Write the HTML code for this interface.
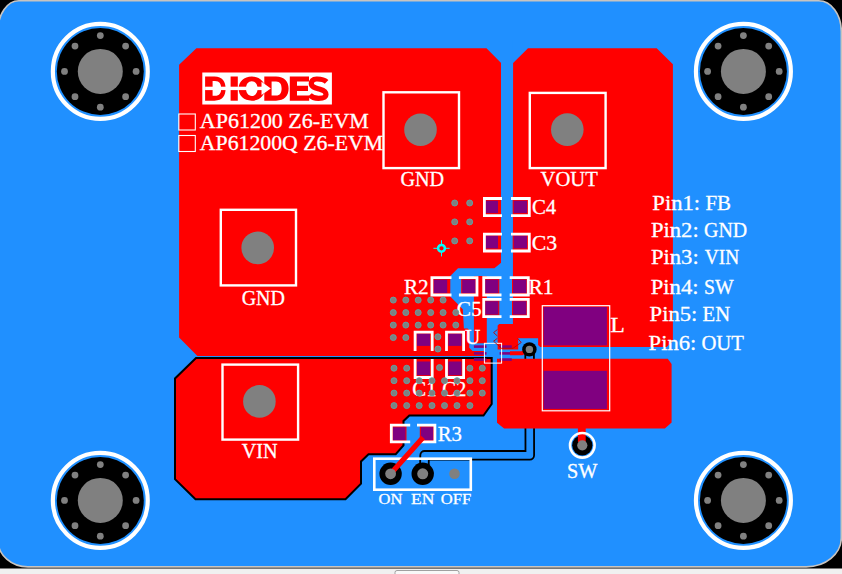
<!DOCTYPE html><html><head><meta charset="utf-8"><style>html,body{margin:0;padding:0;background:#000;overflow:hidden}svg{display:block}text{font-family:"Liberation Serif",serif}</style></head><body>
<svg width="842" height="574" viewBox="0 0 842 574">
<rect x="0" y="0" width="842" height="574" fill="#000000"/>
<rect x="0" y="568.5" width="842" height="6" fill="#f0f0f0"/>
<rect x="395" y="570.5" width="64" height="8" rx="2" fill="#f8f8f8" stroke="#a0a0a0" stroke-width="1"/>
<path d="M18.8,0.8 L818.7,0.8 A22.6,30.6 0 0 1 841.3,31.4 L841.3,538 A35.1,28.9 0 0 1 806.2,566.9 L27.9,566.9 A29.9,26.4 0 0 1 -2,540.5 L-2,30.5 A20.8,29.7 0 0 1 18.8,0.8 Z" fill="#2090ff" stroke="#c8c4c0" stroke-width="1.6"/>
<circle cx="100.3" cy="71.4" r="47.45" fill="none" stroke="#ffffff" stroke-width="4.2"/>
<circle cx="100.3" cy="71.4" r="43.5" fill="#000000"/>
<circle cx="100.3" cy="71.4" r="22.5" fill="#808080"/>
<circle cx="136.10" cy="71.40" r="3.4" fill="#808080"/>
<circle cx="125.61" cy="96.71" r="3.4" fill="#808080"/>
<circle cx="100.30" cy="107.20" r="3.4" fill="#808080"/>
<circle cx="74.99" cy="96.71" r="3.4" fill="#808080"/>
<circle cx="64.50" cy="71.40" r="3.4" fill="#808080"/>
<circle cx="74.99" cy="46.09" r="3.4" fill="#808080"/>
<circle cx="100.30" cy="35.60" r="3.4" fill="#808080"/>
<circle cx="125.61" cy="46.09" r="3.4" fill="#808080"/>
<circle cx="743.4" cy="71.4" r="47.45" fill="none" stroke="#ffffff" stroke-width="4.2"/>
<circle cx="743.4" cy="71.4" r="43.5" fill="#000000"/>
<circle cx="743.4" cy="71.4" r="22.5" fill="#808080"/>
<circle cx="779.20" cy="71.40" r="3.4" fill="#808080"/>
<circle cx="768.71" cy="96.71" r="3.4" fill="#808080"/>
<circle cx="743.40" cy="107.20" r="3.4" fill="#808080"/>
<circle cx="718.09" cy="96.71" r="3.4" fill="#808080"/>
<circle cx="707.60" cy="71.40" r="3.4" fill="#808080"/>
<circle cx="718.09" cy="46.09" r="3.4" fill="#808080"/>
<circle cx="743.40" cy="35.60" r="3.4" fill="#808080"/>
<circle cx="768.71" cy="46.09" r="3.4" fill="#808080"/>
<circle cx="100.3" cy="500.4" r="47.45" fill="none" stroke="#ffffff" stroke-width="4.2"/>
<circle cx="100.3" cy="500.4" r="43.5" fill="#000000"/>
<circle cx="100.3" cy="500.4" r="22.5" fill="#808080"/>
<circle cx="136.10" cy="500.40" r="3.4" fill="#808080"/>
<circle cx="125.61" cy="525.71" r="3.4" fill="#808080"/>
<circle cx="100.30" cy="536.20" r="3.4" fill="#808080"/>
<circle cx="74.99" cy="525.71" r="3.4" fill="#808080"/>
<circle cx="64.50" cy="500.40" r="3.4" fill="#808080"/>
<circle cx="74.99" cy="475.09" r="3.4" fill="#808080"/>
<circle cx="100.30" cy="464.60" r="3.4" fill="#808080"/>
<circle cx="125.61" cy="475.09" r="3.4" fill="#808080"/>
<circle cx="743.4" cy="500.4" r="47.45" fill="none" stroke="#ffffff" stroke-width="4.2"/>
<circle cx="743.4" cy="500.4" r="43.5" fill="#000000"/>
<circle cx="743.4" cy="500.4" r="22.5" fill="#808080"/>
<circle cx="779.20" cy="500.40" r="3.4" fill="#808080"/>
<circle cx="768.71" cy="525.71" r="3.4" fill="#808080"/>
<circle cx="743.40" cy="536.20" r="3.4" fill="#808080"/>
<circle cx="718.09" cy="525.71" r="3.4" fill="#808080"/>
<circle cx="707.60" cy="500.40" r="3.4" fill="#808080"/>
<circle cx="718.09" cy="475.09" r="3.4" fill="#808080"/>
<circle cx="743.40" cy="464.60" r="3.4" fill="#808080"/>
<circle cx="768.71" cy="475.09" r="3.4" fill="#808080"/>
<polygon points="196.4,48.3 486.5,48.3 501.1,63 501.1,270 484.3,270 484.3,356 197.4,356 179.1,337.5 179.1,64.8" fill="#ff0000" />
<polygon points="513.1,63 528,48.3 656.7,48.3 672.9,64.3 672.9,341 666.6,347 540.2,347 538.1,345 538.1,338.2 518.2,338.2 518.2,349.5 497.4,349.5 497.4,325.5 499,323.9 512.7,323.9" fill="#ff0000" />
<polygon points="501.1,40 512.7,40 512.7,323.9 499,323.9 497.4,325.5 497.4,363 497,428 491,428 491,363 484.3,363 484.3,350.9 472.5,350.9 469.3,347.7 469.3,330 467.5,328.5 463.9,328.5 462.8,309.3 450.3,296.6 450.3,276 458,268.2 494.4,268.2 501.1,262.7" fill="#2090ff" />
<polygon points="473.9,276 486.8,276 486.8,343.3 473.9,343.3" fill="#ff0000" />
<path d="M529.6,349.4 L529.8,455.3 L424.6,455.3 L424.4,466 L422.7,473.8" fill="none" stroke="#000000" stroke-width="10.4" stroke-linejoin="round"/>
<path d="M529.6,349.4 L529.8,455.3 L424.6,455.3 L424.4,466 L422.7,473.8" fill="none" stroke="#2090ff" stroke-width="6.8" stroke-linejoin="round"/>
<polygon points="497,358.7 667.8,358.7 671.6,364 671.6,422.5 664.9,428.5 504.1,428.5 497,422.7" fill="#ff0000" />
<polygon points="196,358 491.7,358 491.7,404 483.5,415.5 409.3,415.5 403.5,421 403.5,445.4 395.7,454.2 368.5,454.3 361,461.4 361,483.6 345.5,499.3 195.5,499.3 175,479.2 175,378.5" fill="#ff0000" stroke="#000000" stroke-width="2"/>
<rect x="383.5" y="92.3" width="75.5" height="75.8" fill="none" stroke="#ffffff" stroke-width="2.4"/>
<circle cx="420.5" cy="129.7" r="16.3" fill="#808080"/>
<rect x="529.8" y="92.9" width="75.80000000000007" height="75.19999999999999" fill="none" stroke="#ffffff" stroke-width="2.4"/>
<circle cx="567.3" cy="129.6" r="16.3" fill="#808080"/>
<rect x="220.8" y="209.8" width="75.19999999999999" height="75.59999999999997" fill="none" stroke="#ffffff" stroke-width="2.4"/>
<circle cx="257.7" cy="247.9" r="16.3" fill="#808080"/>
<rect x="222.5" y="364.6" width="75.60000000000002" height="75.0" fill="none" stroke="#ffffff" stroke-width="2.4"/>
<circle cx="259.4" cy="401.4" r="16.3" fill="#808080"/>
<rect x="484.8" y="199.7" width="14.199999999999989" height="14.400000000000006" fill="#ff0000"/>
<rect x="485.8" y="200.7" width="12.199999999999989" height="12.400000000000006" fill="#800080"/>
<rect x="512.7" y="199.7" width="15.299999999999955" height="14.400000000000006" fill="#ff0000"/>
<rect x="513.7" y="200.7" width="13.299999999999955" height="12.400000000000006" fill="#800080"/>
<polyline points="502,198.5 484.4,198.5 484.4,215.7 502,215.7" fill="none" stroke="#ffffff" stroke-width="2.8" stroke-linejoin="miter"/>
<polyline points="511,198.5 529.3,198.5 529.3,215.7 511,215.7" fill="none" stroke="#ffffff" stroke-width="2.8" stroke-linejoin="miter"/>
<rect x="484.8" y="234.6" width="14.199999999999989" height="14.800000000000011" fill="#ff0000"/>
<rect x="485.8" y="235.6" width="12.199999999999989" height="12.800000000000011" fill="#800080"/>
<rect x="512.7" y="234.6" width="15.299999999999955" height="14.800000000000011" fill="#ff0000"/>
<rect x="513.7" y="235.6" width="13.299999999999955" height="12.800000000000011" fill="#800080"/>
<polyline points="502,234.2 484.4,234.2 484.4,251.0 502,251.0" fill="none" stroke="#ffffff" stroke-width="2.8" stroke-linejoin="miter"/>
<polyline points="511,234.2 529.3,234.2 529.3,251.0 511,251.0" fill="none" stroke="#ffffff" stroke-width="2.8" stroke-linejoin="miter"/>
<rect x="432.7" y="278.6" width="15.5" height="15.5" fill="#ff0000"/>
<rect x="433.7" y="279.6" width="13.5" height="13.5" fill="#800080"/>
<polyline points="451.5,277.6 431.9,277.6 431.9,295 451.5,295" fill="none" stroke="#ffffff" stroke-width="2.8" stroke-linejoin="miter"/>
<rect x="461.2" y="278.6" width="15.300000000000011" height="15.5" fill="#ff0000"/>
<rect x="462.2" y="279.6" width="13.300000000000011" height="13.5" fill="#800080"/>
<polyline points="458.9,277.6 477,277.6 477,295 458.9,295" fill="none" stroke="#ffffff" stroke-width="2.8" stroke-linejoin="miter"/>
<rect x="484.2" y="278.6" width="15.100000000000023" height="15.5" fill="#ff0000"/>
<rect x="485.2" y="279.6" width="13.100000000000023" height="13.5" fill="#800080"/>
<polyline points="501.5,277.6 483.7,277.6 483.7,295 501.5,295" fill="none" stroke="#ffffff" stroke-width="2.8" stroke-linejoin="miter"/>
<rect x="512" y="278.6" width="15.399999999999977" height="15.5" fill="#ff0000"/>
<rect x="513" y="279.6" width="13.399999999999977" height="13.5" fill="#800080"/>
<polyline points="509.7,277.6 528.3,277.6 528.3,295 509.7,295" fill="none" stroke="#ffffff" stroke-width="2.8" stroke-linejoin="miter"/>
<rect x="484.2" y="300.2" width="15.100000000000023" height="15.400000000000034" fill="#ff0000"/>
<rect x="485.2" y="301.2" width="13.100000000000023" height="13.400000000000034" fill="#800080"/>
<polyline points="501.5,299.4 483.7,299.4 483.7,316.6 501.5,316.6" fill="none" stroke="#ffffff" stroke-width="2.8" stroke-linejoin="miter"/>
<rect x="512" y="300.2" width="15.399999999999977" height="15.400000000000034" fill="#ff0000"/>
<rect x="513" y="301.2" width="13.399999999999977" height="13.400000000000034" fill="#800080"/>
<polyline points="509.7,299.4 528.3,299.4 528.3,316.6 509.7,316.6" fill="none" stroke="#ffffff" stroke-width="2.8" stroke-linejoin="miter"/>
<rect x="416" y="332.6" width="15" height="14.299999999999955" fill="#ff0000"/>
<rect x="417" y="333.6" width="13" height="12.299999999999955" fill="#800080"/>
<polyline points="415.1,351 415.1,332.1 432.2,332.1 432.2,351" fill="none" stroke="#ffffff" stroke-width="2.8" stroke-linejoin="miter"/>
<rect x="416" y="360.5" width="15" height="15.699999999999989" fill="#ff0000"/>
<rect x="417" y="361.5" width="13" height="13.699999999999989" fill="#800080"/>
<polyline points="415.1,359 415.1,377.5 432.2,377.5 432.2,359" fill="none" stroke="#ffffff" stroke-width="2.8" stroke-linejoin="miter"/>
<rect x="447.4" y="332.6" width="15.100000000000023" height="14.299999999999955" fill="#ff0000"/>
<rect x="448.4" y="333.6" width="13.100000000000023" height="12.299999999999955" fill="#800080"/>
<polyline points="446.5,351 446.5,332.1 463.6,332.1 463.6,351" fill="none" stroke="#ffffff" stroke-width="2.8" stroke-linejoin="miter"/>
<rect x="447.4" y="360.5" width="15.100000000000023" height="15.699999999999989" fill="#ff0000"/>
<rect x="448.4" y="361.5" width="13.100000000000023" height="13.699999999999989" fill="#800080"/>
<polyline points="446.5,359 446.5,377.5 463.6,377.5 463.6,359" fill="none" stroke="#ffffff" stroke-width="2.8" stroke-linejoin="miter"/>
<rect x="392" y="426.2" width="14.5" height="15.0" fill="#ff0000"/>
<rect x="393" y="427.2" width="12.5" height="13.0" fill="#800080"/>
<polyline points="410.2,425.2 391.3,425.2 391.3,441.9 410.2,441.9" fill="none" stroke="#ffffff" stroke-width="2.8" stroke-linejoin="miter"/>
<rect x="419.8" y="426.2" width="14.399999999999977" height="15.0" fill="#ff0000"/>
<rect x="420.8" y="427.2" width="12.399999999999977" height="13.0" fill="#800080"/>
<polyline points="417,425.2 434.9,425.2 434.9,441.9 417,441.9" fill="none" stroke="#ffffff" stroke-width="2.8" stroke-linejoin="miter"/>
<rect x="543.6" y="307" width="63.3" height="38.4" fill="#800080"/>
<rect x="543.6" y="370.8" width="63.3" height="38.1" fill="#800080"/>
<rect x="542.3" y="305.7" width="67.4" height="105.1" fill="none" stroke="#ffffff" stroke-width="1.2"/>
<rect x="473.9" y="345.3" width="12.6" height="2.6" fill="#800080"/>
<rect x="499.6" y="345.3" width="12.2" height="2.6" fill="#800080"/>
<rect x="473.9" y="352.09999999999997" width="12.6" height="2.6" fill="#800080"/>
<rect x="499.6" y="352.09999999999997" width="12.2" height="2.6" fill="#800080"/>
<rect x="473.9" y="358.3" width="12.6" height="2.6" fill="#800080"/>
<rect x="499.6" y="358.3" width="12.2" height="2.6" fill="#800080"/>
<rect x="484.4" y="343.3" width="17.2" height="19.8" fill="none" stroke="#ffffff" stroke-width="1"/>
<path d="M510,353.2 L522,353.2 L529,349" fill="none" stroke="#ff0000" stroke-width="4" stroke-linejoin="round"/>
<path d="M497.4,329.5 L493.6,332.6 L497.4,336 M497.4,338.3 L493.6,341.2 L501.5,348.3 L513,348.3 L521.2,342.5 L517.8,338.5" fill="none" stroke="#c00000" stroke-width="0.9"/>
<circle cx="529.4" cy="349.4" r="7.2" fill="#000000"/>
<circle cx="529.4" cy="349.4" r="3.7" fill="#808080"/>
<text x="199.87" y="127.5" font-size="21.3" fill="#ffffff" stroke="#ffffff" stroke-width="0.3" text-anchor="start" textLength="169.03" lengthAdjust="spacingAndGlyphs">AP61200 Z6-EVM</text>
<text x="199.88" y="150.1" font-size="21.3" fill="#ffffff" stroke="#ffffff" stroke-width="0.3" text-anchor="start" textLength="183.1" lengthAdjust="spacingAndGlyphs">AP61200Q Z6-EVM</text>
<text x="400.45" y="185.6" font-size="21.3" fill="#ffffff" stroke="#ffffff" stroke-width="0.3" text-anchor="start" textLength="43.62" lengthAdjust="spacingAndGlyphs">GND</text>
<text x="540.53" y="186" font-size="21.3" fill="#ffffff" stroke="#ffffff" stroke-width="0.3" text-anchor="start" textLength="57.22" lengthAdjust="spacingAndGlyphs">VOUT</text>
<text x="241.66" y="305.4" font-size="21.3" fill="#ffffff" stroke="#ffffff" stroke-width="0.3" text-anchor="start" textLength="43.2" lengthAdjust="spacingAndGlyphs">GND</text>
<text x="241.65" y="458.4" font-size="21.3" fill="#ffffff" stroke="#ffffff" stroke-width="0.3" text-anchor="start" textLength="35.86" lengthAdjust="spacingAndGlyphs">VIN</text>
<text x="531.92" y="213.8" font-size="21.3" fill="#ffffff" stroke="#ffffff" stroke-width="0.3" text-anchor="start" textLength="24.24" lengthAdjust="spacingAndGlyphs">C4</text>
<text x="531.88" y="250.4" font-size="21.3" fill="#ffffff" stroke="#ffffff" stroke-width="0.3" text-anchor="start" textLength="25.29" lengthAdjust="spacingAndGlyphs">C3</text>
<text x="403.9" y="294.4" font-size="21.3" fill="#ffffff" stroke="#ffffff" stroke-width="0.3" text-anchor="start" textLength="24.75" lengthAdjust="spacingAndGlyphs">R2</text>
<text x="528.49" y="293.5" font-size="21.3" fill="#ffffff" stroke="#ffffff" stroke-width="0.3" text-anchor="start" textLength="25.09" lengthAdjust="spacingAndGlyphs">R1</text>
<text x="456.7" y="315.6" font-size="21.3" fill="#ffffff" stroke="#ffffff" stroke-width="0.3" text-anchor="start" textLength="24.86" lengthAdjust="spacingAndGlyphs">C5</text>
<text x="464.9" y="343.5" font-size="21.3" fill="#ffffff" stroke="#ffffff" stroke-width="0.3" text-anchor="start" textLength="15.39" lengthAdjust="spacingAndGlyphs">U</text>
<text x="610.38" y="332.3" font-size="21.3" fill="#ffffff" stroke="#ffffff" stroke-width="0.3" text-anchor="start" textLength="14.55" lengthAdjust="spacingAndGlyphs">L</text>
<text x="437.63" y="440.6" font-size="21.3" fill="#ffffff" stroke="#ffffff" stroke-width="0.3" text-anchor="start" textLength="24.21" lengthAdjust="spacingAndGlyphs">R3</text>
<text x="567.05" y="477.6" font-size="21.3" fill="#ffffff" stroke="#ffffff" stroke-width="0.3" text-anchor="start" textLength="30.41" lengthAdjust="spacingAndGlyphs">SW</text>
<text x="412.22" y="396.1" font-size="21.3" fill="#ffffff" stroke="#ffffff" stroke-width="0.3" text-anchor="start" textLength="24.41" lengthAdjust="spacingAndGlyphs">C1</text>
<text x="442.23" y="396.1" font-size="21.3" fill="#ffffff" stroke="#ffffff" stroke-width="0.3" text-anchor="start" textLength="24.1" lengthAdjust="spacingAndGlyphs">C2</text>
<text x="378.5" y="503.5" font-size="15" fill="#ffffff" stroke="#ffffff" stroke-width="0.3" text-anchor="start" textLength="23.84" lengthAdjust="spacingAndGlyphs">ON</text>
<text x="411.03" y="503.5" font-size="15" fill="#ffffff" stroke="#ffffff" stroke-width="0.3" text-anchor="start" textLength="23.33" lengthAdjust="spacingAndGlyphs">EN</text>
<text x="440.8" y="503.5" font-size="15" fill="#ffffff" stroke="#ffffff" stroke-width="0.3" text-anchor="start" textLength="30.39" lengthAdjust="spacingAndGlyphs">OFF</text>
<text x="652.34" y="210.2" font-size="21.3" fill="#ffffff" stroke="#ffffff" stroke-width="0.3" text-anchor="start" textLength="47.77" lengthAdjust="spacingAndGlyphs">Pin1:</text>
<text x="705.42" y="210.2" font-size="21.3" fill="#ffffff" stroke="#ffffff" stroke-width="0.3" text-anchor="start" textLength="25.63" lengthAdjust="spacingAndGlyphs">FB</text>
<text x="650.94" y="237.4" font-size="21.3" fill="#ffffff" stroke="#ffffff" stroke-width="0.3" text-anchor="start" textLength="47.77" lengthAdjust="spacingAndGlyphs">Pin2:</text>
<text x="704.07" y="237.4" font-size="21.3" fill="#ffffff" stroke="#ffffff" stroke-width="0.3" text-anchor="start" textLength="43.1" lengthAdjust="spacingAndGlyphs">GND</text>
<text x="650.94" y="264" font-size="21.3" fill="#ffffff" stroke="#ffffff" stroke-width="0.3" text-anchor="start" textLength="47.77" lengthAdjust="spacingAndGlyphs">Pin3:</text>
<text x="704.79" y="264" font-size="21.3" fill="#ffffff" stroke="#ffffff" stroke-width="0.3" text-anchor="start" textLength="34.39" lengthAdjust="spacingAndGlyphs">VIN</text>
<text x="650.74" y="293.5" font-size="21.3" fill="#ffffff" stroke="#ffffff" stroke-width="0.3" text-anchor="start" textLength="47.77" lengthAdjust="spacingAndGlyphs">Pin4:</text>
<text x="704.07" y="293.5" font-size="21.3" fill="#ffffff" stroke="#ffffff" stroke-width="0.3" text-anchor="start" textLength="29.58" lengthAdjust="spacingAndGlyphs">SW</text>
<text x="649.64" y="320.5" font-size="21.3" fill="#ffffff" stroke="#ffffff" stroke-width="0.3" text-anchor="start" textLength="47.77" lengthAdjust="spacingAndGlyphs">Pin5:</text>
<text x="702.53" y="320.5" font-size="21.3" fill="#ffffff" stroke="#ffffff" stroke-width="0.3" text-anchor="start" textLength="27.55" lengthAdjust="spacingAndGlyphs">EN</text>
<text x="648.64" y="349.6" font-size="21.3" fill="#ffffff" stroke="#ffffff" stroke-width="0.3" text-anchor="start" textLength="47.77" lengthAdjust="spacingAndGlyphs">Pin6:</text>
<text x="701.43" y="349.6" font-size="21.3" fill="#ffffff" stroke="#ffffff" stroke-width="0.3" text-anchor="start" textLength="42.56" lengthAdjust="spacingAndGlyphs">OUT</text>
<circle cx="454.7" cy="203" r="3.0" fill="#808080" stroke="#5fa5a5" stroke-width="0.9"/>
<circle cx="469.7" cy="203" r="3.0" fill="#808080" stroke="#5fa5a5" stroke-width="0.9"/>
<circle cx="454.7" cy="221.9" r="3.0" fill="#808080" stroke="#5fa5a5" stroke-width="0.9"/>
<circle cx="469.7" cy="221.9" r="3.0" fill="#808080" stroke="#5fa5a5" stroke-width="0.9"/>
<circle cx="454.7" cy="240.9" r="3.0" fill="#808080" stroke="#5fa5a5" stroke-width="0.9"/>
<circle cx="469.7" cy="240.9" r="3.0" fill="#808080" stroke="#5fa5a5" stroke-width="0.9"/>
<circle cx="393.3" cy="300.1" r="3.0" fill="#808080" stroke="#5fa5a5" stroke-width="0.9"/>
<circle cx="405.8" cy="300.1" r="3.0" fill="#808080" stroke="#5fa5a5" stroke-width="0.9"/>
<circle cx="418.2" cy="300.1" r="3.0" fill="#808080" stroke="#5fa5a5" stroke-width="0.9"/>
<circle cx="430.7" cy="300.1" r="3.0" fill="#808080" stroke="#5fa5a5" stroke-width="0.9"/>
<circle cx="443.1" cy="300.1" r="3.0" fill="#808080" stroke="#5fa5a5" stroke-width="0.9"/>
<circle cx="393.3" cy="312.6" r="3.0" fill="#808080" stroke="#5fa5a5" stroke-width="0.9"/>
<circle cx="405.8" cy="312.6" r="3.0" fill="#808080" stroke="#5fa5a5" stroke-width="0.9"/>
<circle cx="418.2" cy="312.6" r="3.0" fill="#808080" stroke="#5fa5a5" stroke-width="0.9"/>
<circle cx="430.7" cy="312.6" r="3.0" fill="#808080" stroke="#5fa5a5" stroke-width="0.9"/>
<circle cx="443.1" cy="312.6" r="3.0" fill="#808080" stroke="#5fa5a5" stroke-width="0.9"/>
<circle cx="455.8" cy="312.6" r="3.0" fill="#808080" stroke="#5fa5a5" stroke-width="0.9"/>
<circle cx="393.3" cy="325.1" r="3.0" fill="#808080" stroke="#5fa5a5" stroke-width="0.9"/>
<circle cx="405.8" cy="325.1" r="3.0" fill="#808080" stroke="#5fa5a5" stroke-width="0.9"/>
<circle cx="418.2" cy="325.1" r="3.0" fill="#808080" stroke="#5fa5a5" stroke-width="0.9"/>
<circle cx="430.7" cy="325.1" r="3.0" fill="#808080" stroke="#5fa5a5" stroke-width="0.9"/>
<circle cx="443.1" cy="325.1" r="3.0" fill="#808080" stroke="#5fa5a5" stroke-width="0.9"/>
<circle cx="455.8" cy="325.1" r="3.0" fill="#808080" stroke="#5fa5a5" stroke-width="0.9"/>
<circle cx="393.3" cy="337.6" r="3.0" fill="#808080" stroke="#5fa5a5" stroke-width="0.9"/>
<circle cx="405.8" cy="337.6" r="3.0" fill="#808080" stroke="#5fa5a5" stroke-width="0.9"/>
<circle cx="437.9" cy="336.8" r="3.0" fill="#808080" stroke="#5fa5a5" stroke-width="0.9"/>
<circle cx="437.9" cy="349" r="3.0" fill="#808080" stroke="#5fa5a5" stroke-width="0.9"/>
<circle cx="394" cy="368.2" r="3.0" fill="#808080" stroke="#5fa5a5" stroke-width="0.9"/>
<circle cx="406.7" cy="368.2" r="3.0" fill="#808080" stroke="#5fa5a5" stroke-width="0.9"/>
<circle cx="439.5" cy="367.6" r="3.0" fill="#808080" stroke="#5fa5a5" stroke-width="0.9"/>
<circle cx="469.9" cy="368.2" r="3.0" fill="#808080" stroke="#5fa5a5" stroke-width="0.9"/>
<circle cx="482.3" cy="368.2" r="3.0" fill="#808080" stroke="#5fa5a5" stroke-width="0.9"/>
<circle cx="394" cy="380.7" r="3.0" fill="#808080" stroke="#5fa5a5" stroke-width="0.9"/>
<circle cx="406.7" cy="380.7" r="3.0" fill="#808080" stroke="#5fa5a5" stroke-width="0.9"/>
<circle cx="419.2" cy="380.7" r="3.0" fill="#808080" stroke="#5fa5a5" stroke-width="0.9"/>
<circle cx="432" cy="380.7" r="3.0" fill="#808080" stroke="#5fa5a5" stroke-width="0.9"/>
<circle cx="444.5" cy="380.7" r="3.0" fill="#808080" stroke="#5fa5a5" stroke-width="0.9"/>
<circle cx="457" cy="380.7" r="3.0" fill="#808080" stroke="#5fa5a5" stroke-width="0.9"/>
<circle cx="469.9" cy="380.7" r="3.0" fill="#808080" stroke="#5fa5a5" stroke-width="0.9"/>
<circle cx="482.3" cy="380.7" r="3.0" fill="#808080" stroke="#5fa5a5" stroke-width="0.9"/>
<circle cx="394" cy="393.1" r="3.0" fill="#808080" stroke="#5fa5a5" stroke-width="0.9"/>
<circle cx="406.7" cy="393.1" r="3.0" fill="#808080" stroke="#5fa5a5" stroke-width="0.9"/>
<circle cx="419.2" cy="393.1" r="3.0" fill="#808080" stroke="#5fa5a5" stroke-width="0.9"/>
<circle cx="432" cy="393.1" r="3.0" fill="#808080" stroke="#5fa5a5" stroke-width="0.9"/>
<circle cx="444.5" cy="393.1" r="3.0" fill="#808080" stroke="#5fa5a5" stroke-width="0.9"/>
<circle cx="457" cy="393.1" r="3.0" fill="#808080" stroke="#5fa5a5" stroke-width="0.9"/>
<circle cx="469.9" cy="393.1" r="3.0" fill="#808080" stroke="#5fa5a5" stroke-width="0.9"/>
<circle cx="482.3" cy="393.1" r="3.0" fill="#808080" stroke="#5fa5a5" stroke-width="0.9"/>
<circle cx="394" cy="405.6" r="3.0" fill="#808080" stroke="#5fa5a5" stroke-width="0.9"/>
<circle cx="406.7" cy="405.6" r="3.0" fill="#808080" stroke="#5fa5a5" stroke-width="0.9"/>
<circle cx="419.2" cy="405.6" r="3.0" fill="#808080" stroke="#5fa5a5" stroke-width="0.9"/>
<circle cx="432" cy="405.6" r="3.0" fill="#808080" stroke="#5fa5a5" stroke-width="0.9"/>
<circle cx="444.5" cy="405.6" r="3.0" fill="#808080" stroke="#5fa5a5" stroke-width="0.9"/>
<circle cx="457" cy="405.6" r="3.0" fill="#808080" stroke="#5fa5a5" stroke-width="0.9"/>
<circle cx="469.9" cy="405.6" r="3.0" fill="#808080" stroke="#5fa5a5" stroke-width="0.9"/>
<rect x="178.8" y="114" width="16.5" height="16" fill="none" stroke="#ffffff" stroke-width="1.1"/>
<rect x="178.8" y="135.5" width="16.5" height="16" fill="none" stroke="#ffffff" stroke-width="1.1"/>
<g fill="#00ffff"><circle cx="441.5" cy="248.3" r="3.4" fill="none" stroke="#00ffff" stroke-width="2.5"/><rect x="441" y="240.2" width="1" height="4" /><rect x="441" y="252.4" width="1" height="4"/><rect x="433.4" y="247.8" width="4" height="1"/><rect x="445.6" y="247.8" width="4" height="1"/></g>
<rect x="374.3" y="458.7" width="96.5" height="31" fill="none" stroke="#ffffff" stroke-width="2.6"/>
<circle cx="390.6" cy="473.8" r="11.2" fill="#000000"/>
<circle cx="422.7" cy="473.8" r="11.2" fill="#000000"/>
<path d="M390.6,473.8 L423,437.5" stroke="#ff0000" stroke-width="5.2"/>
<circle cx="390.6" cy="473.8" r="5.4" fill="#808080"/>
<circle cx="422.7" cy="473.8" r="5.5" fill="#808080"/>
<circle cx="454.5" cy="473.8" r="5.3" fill="#808080"/>
<circle cx="582.3" cy="445.3" r="11.2" fill="#2090ff"/>
<circle cx="582.3" cy="445.3" r="10.1" fill="#000000"/>
<rect x="577.9" y="427" width="7.8" height="15" fill="#ff0000"/>
<circle cx="582.3" cy="445.3" r="12.3" fill="none" stroke="#ffffff" stroke-width="2.6"/>
<circle cx="582.3" cy="445.3" r="5.1" fill="#808080"/>
<rect x="202.3" y="72.5" width="129.6" height="32" fill="#ffffff"/>
<g fill="#ff0000"><path fill-rule="evenodd" d="M205.1,76.5 H214.5 C222.5,76.5 225.6,81.5 225.6,88.6 C225.6,95.7 222.5,100.7 214.5,100.7 H205.1 Z M212.6,81 H215 C219.6,81 221.2,84 221.2,88.5 C221.2,93 219.6,95.8 215,95.8 H212.6 Z"/><rect x="230.6" y="76.5" width="7.2" height="24.2"/><path fill-rule="evenodd" d="M251.8,76.5 C259.5,76.5 265,81.5 265,88.6 C265,95.7 259.5,100.7 251.8,100.7 C244,100.7 238.6,95.7 238.6,88.6 C238.6,81.5 244,76.5 251.8,76.5 Z M251.8,81.2 C248.3,81.2 246,84.2 246,88.6 C246,93 248.3,96 251.8,96 C255.3,96 257.6,93 257.6,88.6 C257.6,84.2 255.3,81.2 251.8,81.2 Z"/><path fill-rule="evenodd" d="M264.3,76.5 H276 C284.5,76.5 288.6,81.5 288.6,88.6 C288.6,95.7 284.5,100.7 276,100.7 H264.3 Z M271.6,81.4 H276 C280.2,81.4 281.6,84.5 281.6,88.5 C281.6,92.5 280.2,95.6 276,95.6 H271.6 Z"/><path d="M289.8,76.5 H309 V81.6 H297 V85.8 H308 V91 H297 V95.4 H309.2 V100.7 H289.8 Z"/><path d="M326.6,81.8 C323.5,78.8 319.5,79 316.5,79 C312.5,79 311.3,81.5 311.3,83.6 C311.3,87.5 316,88 320,89.2 C324.5,90.5 326,92 326,94.5 C326,97.5 322.5,98.3 318.5,98.3 C315,98.3 312,97.5 309.8,95" fill="none" stroke="#ff0000" stroke-width="5.2"/></g>
<rect x="205.1" y="86.7" width="58" height="3.4" fill="#ffffff"/><path d="M261.5,81.8 L270.8,88.4 L261.5,95 Z" fill="#ffffff"/>
</svg></body></html>
